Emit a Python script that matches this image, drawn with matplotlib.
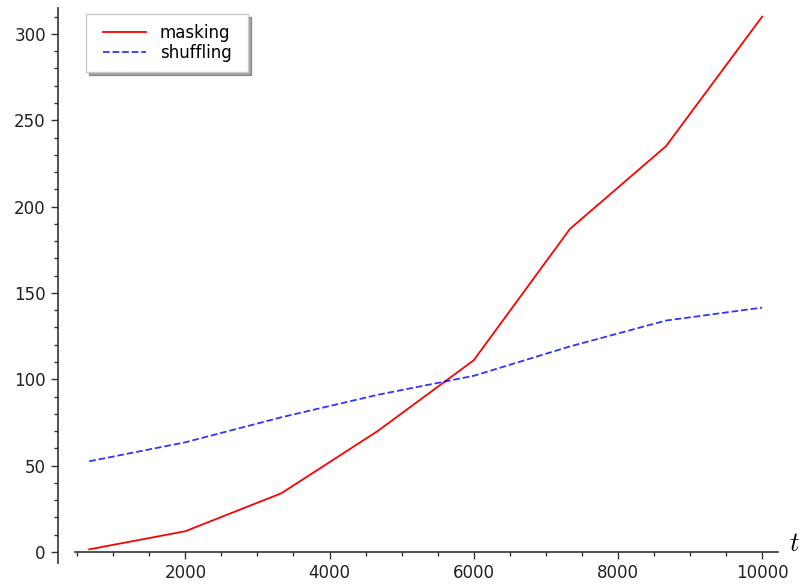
import numpy as np
import matplotlib.pyplot as plt
from matplotlib.path import Path
from matplotlib.ticker import MultipleLocator

plt.rcParams['mathtext.fontset'] = 'cm'

# sample sizes t
t = [667, 2000, 3333, 4667, 6000, 7333, 8667, 10000]
# timings
masking = [1.5, 12, 34, 70, 111, 187, 235, 310]
shuffling = [52.5, 63.5, 78, 91, 102, 119, 134, 141.5]


def wide_box(x0, y0, width, height, mutation_size):
    # legend frame a bit wider than the default padding gives
    dx = 7
    x1, y1 = x0 + width + dx, y0 + height
    x0 = x0 - dx
    return Path([(x0, y0), (x1, y0), (x1, y1), (x0, y1), (x0, y0)],
                [Path.MOVETO, Path.LINETO, Path.LINETO, Path.LINETO, Path.CLOSEPOLY])


fig = plt.figure(figsize=(8.02, 5.84), dpi=100)
ax = fig.add_axes([75/802, 21/584, 703/802, 555/584])

ax.plot(t, masking, color='#ff0000', lw=1.3, label='masking')
ax.plot(t, shuffling, color='#0000ff', lw=1.3, ls='--', alpha=0.8, label='shuffling')

ax.set_xlim(470, 10220)
ax.set_ylim(-6.4, 315)

ax.spines['top'].set_visible(False)
ax.spines['right'].set_visible(False)
ax.spines['bottom'].set_position(('data', 0))
ax.spines['left'].set_position(('outward', 12.5))
for s in ('left', 'bottom'):
    ax.spines[s].set_linewidth(1.2)
    ax.spines[s].set_color('#333333')

ax.xaxis.set_major_locator(MultipleLocator(2000))
ax.xaxis.set_minor_locator(MultipleLocator(500))
ax.yaxis.set_major_locator(MultipleLocator(50))
ax.yaxis.set_minor_locator(MultipleLocator(10))
ax.tick_params(which='major', length=5, width=1, labelsize=12, direction='out', colors='#333333', labelcolor='#222222')
ax.tick_params(which='minor', length=3, width=1, direction='out', colors='#333333')

ax.text(1.023, 0.035, '$t$', transform=ax.transAxes, fontsize=19, ha='center', va='center')

leg = ax.legend(loc='upper left', bbox_to_anchor=(0.0256, 0.989), fontsize=12, fancybox=False,
                shadow=True, framealpha=1, borderpad=0.6, handlelength=2.6,
                labelspacing=0.1, handletextpad=0.8, borderaxespad=0)
leg.get_frame().set_edgecolor('#cccccc')
leg.get_frame().set_boxstyle(wide_box)

fig.savefig('out.png', dpi=100)
